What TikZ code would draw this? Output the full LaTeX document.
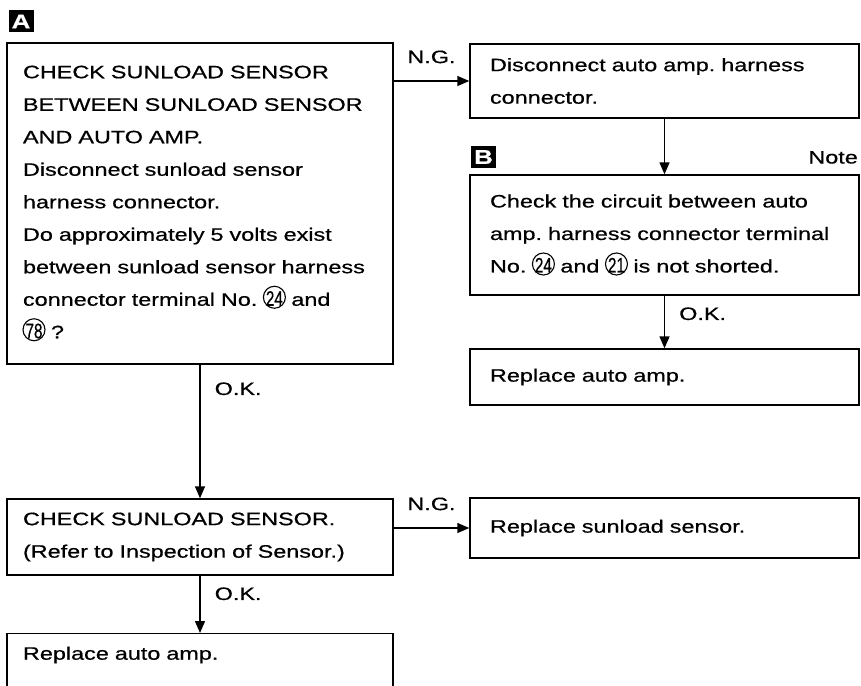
\documentclass[tikz,border=0pt]{standalone}
\usepackage{fontspec}
\setmainfont{Liberation Sans}[FakeStretch=1.3, FakeBold=0.6]
\usetikzlibrary{
  arrows.meta,
  positioning
}
\usepackage{graphicx}
\frenchspacing

% circled terminal number
\newcommand{\cnum}[1]{\makebox[22pt]{\tikz[baseline=-8.5pt]\draw[line width=1.1pt]
  (0pt,0pt) circle[radius=11pt];}%
  \llap{\makebox[22pt]{\fontsize{21}{21}\selectfont\scalebox{0.56}[1]{#1}}}}

\begin{document}
\begin{tikzpicture}[
  x=1pt, y=-1pt,
  every node/.style={font=\fontsize{18}{32.5}\selectfont},
  box/.style={draw, line width=1.4pt, inner ysep=0pt, align=left},
  leftbox/.style={box, minimum width=386pt, text width=354pt, inner xsep=16pt},
  rightbox/.style={box, minimum width=389pt, text width=349pt, inner xsep=20pt},
  badge/.style={fill=black, text=white, inner sep=0pt, minimum width=25pt,
               minimum height=22pt, font=\fontsize{20}{20}\selectfont\bfseries},
  lbl/.style={inner sep=0pt},
  arr/.style={-{Triangle[width=10pt, length=12pt]}, line width=1.4pt},
  >=Stealth
]
\useasboundingbox (0,0) rectangle (861,685);

\node[badge] (badgeA) at (21,21.5) {A};
\node[badge] (badgeB) at (483.5,157) {B};

\node[leftbox, minimum height=321pt] (chkA) at (200,203.5)
  {CHECK SUNLOAD SENSOR\\
   BETWEEN SUNLOAD SENSOR\\
   AND AUTO AMP.\\
   Disconnect sunload sensor\\
   harness connector.\\
   Do approximately 5 volts exist\\
   between sunload sensor harness\\
   connector terminal No. \cnum{24} and\\
   \cnum{78} ?};
\node[leftbox, minimum height=76pt] (chkB) at (200,537)
  {CHECK SUNLOAD SENSOR.\\
   (Refer to Inspection of Sensor.)};
\node[leftbox, anchor=north, text height=26pt, text depth=50pt] (repA) at (200,633)
  {Replace auto amp.};

\node[rightbox, minimum height=74pt] (discon) at (664.5,81)
  {Disconnect auto amp. harness\\
   connector.};
\node[rightbox, minimum height=120pt] (circ) at (664.5,235)
  {Check the circuit between auto\\
   amp. harness connector terminal\\
   No. \cnum{24} and \cnum{21} is not shorted.};
\node[rightbox, minimum height=56pt] (repB) at (664.5,377)
  {Replace auto amp.};
\node[rightbox, minimum height=60pt] (repsens) at (664.5,528)
  {Replace sunload sensor.};

\node[lbl, anchor=base east] (note) at (858,163.5) {Note};

\draw[arr] (chkA.east |- discon.west) -- (discon.west)
  node[lbl, midway, above=17pt] (ng1) {N.G.};
\draw[arr] (chkB.east |- repsens.west) -- (repsens.west)
  node[lbl, midway, above=17pt] (ng2) {N.G.};
\draw[arr] (chkA) -- (chkB)
  node[lbl, at start, below right=17pt and 14pt] (ok1) {O.K.};
\draw[arr] (chkB) -- (repA)
  node[lbl, at start, below right=11pt and 14pt] (ok2) {O.K.};
\draw[arr] (discon) -- (circ);
\draw[arr] (circ) -- (repB)
  node[lbl, at start, below right=11pt and 14pt] (ok3) {O.K.};

\end{tikzpicture}
\end{document}
